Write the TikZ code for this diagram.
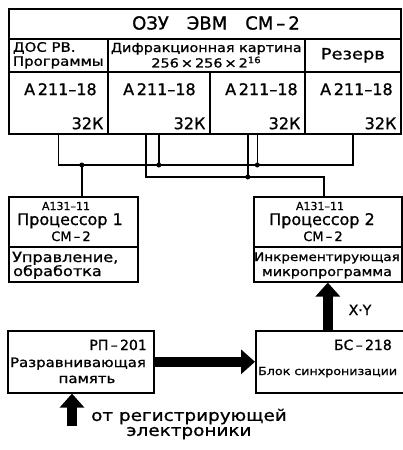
\documentclass[tikz,border=0pt]{standalone}
\usepackage{fontspec}
\setmainfont{DejaVu Sans}[FakeBold=1]
\newfontfamily\wfont[FakeStretch=1.15,FakeBold=1]{DejaVu Sans}
\usetikzlibrary{arrows.meta}

\begin{document}
\begin{tikzpicture}[x=1pt,y=-1pt,
    box/.style={draw, line width=1.6pt, inner sep=0pt, anchor=north west},
    txt/.style={inner sep=0pt, font=\fontsize{#1}{#1}\selectfont},
    wtxt/.style={inner sep=0pt, font=\wfont\fontsize{#1}{#1}\selectfont},
    bus/.style={line width=1.4pt},
    fat/.style={line width=10pt, -{Triangle[width=24pt,length=14pt]}}]
    \useasboundingbox (0,0) rectangle (402,450);

    % Memory of the computer
    \node[box, minimum width=392, minimum height=30] (ozu) at (8,8) {};
    \node[txt=18] (ozut) at (216,23) {ОЗУ\quad ЭВМ\quad СМ\,–\,2};
    \node[box, minimum width=99, minimum height=33, wtxt=13, align=left] (dos) at (8,38)
        {ДОС РВ.\\[1pt]Программы};
    \node[box, minimum width=197, minimum height=33, wtxt=12.5, align=center] (difr) at (107,38)
        {Дифракционная картина\\[1pt]256\,×\,256\,×\,2\textsuperscript{16}};
    \node[box, minimum width=96, minimum height=33, wtxt=15.5] (rez) at (304,38) {Резерв};

    \foreach \i/\xa/\w in {1/8/99, 2/107/102, 3/209/95, 4/304/96} {
        \node[box, minimum width=\w, minimum height=62] (m\i) at (\xa,71) {};
        \node[txt=16, anchor=north west] (a\i) at ([shift={(16pt,-12pt)}]m\i.north west) {A\,211–18};
        \node[txt=16, anchor=south east] (k\i) at ([shift={(-5pt,5pt)}]m\i.south east) {32К};
    }

    % Processors
    \node[box, minimum width=129, minimum height=50] (p1) at (8,196) {};
    \node[box, minimum width=129, minimum height=35] (p1b) at (8,246) {};
    \node[txt=11, anchor=base] (p1n) at (66,210) {A131–11};
    \node[txt=16, anchor=base] (p1t) at (70,225) {Процессор 1};
    \node[txt=13, anchor=base] (p1s) at (71,241) {СМ\,–\,2};
    \node[wtxt=14, anchor=base west] (p1u) at (12,262) {Управление,};
    \node[wtxt=14, anchor=base west] (p1o) at (13,276) {обработка};

    \node[box, minimum width=148, minimum height=50] (p2) at (253,196) {};
    \node[box, minimum width=148, minimum height=35] (p2b) at (253,246) {};
    \node[txt=11, anchor=base] (p2n) at (320,210) {A131–11};
    \node[txt=16, anchor=base] (p2t) at (322,225) {Процессор 2};
    \node[txt=13, anchor=base] (p2s) at (323,241) {СМ\,–\,2};
    \node[wtxt=11.8, anchor=base] (p2u) at (327,261) {Инкрементирующая};
    \node[wtxt=12.5, anchor=base] (p2m) at (327,276) {микропрограмма};

    % Buses
    \coordinate (tA) at ([xshift=-13pt]m2.south);
    \coordinate (tB) at ([xshift=-9.5pt]m3.south);
    \coordinate (p1in) at ([xshift=8.5pt]p1.north);
    \coordinate (p2in) at ([xshift=-4pt]p2.north);
    \draw[bus] (m1.south) -- (m1.south |- 0,165) -- (m4.south |- 0,165) -- (m4.south);
    \draw[bus] (m2.south) -- (m2.south |- 0,165);
    \draw[bus] (m3.south) -- (m3.south |- 0,165);
    \draw[bus] (p1in) -- (p1in |- 0,165);
    \draw[bus] (tA) -- (tA |- 0,177) -- (p2in |- 0,177) -- (p2in);
    \draw[bus] (tB) -- (tB |- 0,177);
    \foreach \c in {m2.south, m3.south, p1in} {
        \fill (\c |- 0,165) circle (2.5);
    }
    \fill (tB |- 0,177) circle (2.5);

    % Input side
    \node[box, minimum width=146, minimum height=62] (rp) at (7,330) {};
    \node[txt=14, anchor=base east] (rpn) at (147,350) {РП\,–\,201};
    \node[wtxt=13, anchor=base] (rpt) at (78,367) {Разравнивающая};
    \node[wtxt=13, anchor=base] (rpm) at (87,383) {память};

    \node[box, minimum width=150, minimum height=62] (bs) at (255,330) {};
    \node[txt=14, anchor=base east] (bsn) at (392,350) {БС\,–\,218};
    \node[wtxt=11, anchor=base west] (bst) at (258,375) {Блок синхронизации};

    \coordinate (src) at (72,426);
    \draw[fat] (src) -- (src |- rp.south);
    \draw[fat] (rp.east) -- (bs.west);
    \draw[fat] (p2b.south |- bs.north) -- (p2b.south);
    \node[txt=14, anchor=base] (xy) at (360,315) {X·Y};
    \node[wtxt=16, align=center] (reg) at (189,424) {от регистрирующей\\[-1pt]электроники};
\end{tikzpicture}
\end{document}
